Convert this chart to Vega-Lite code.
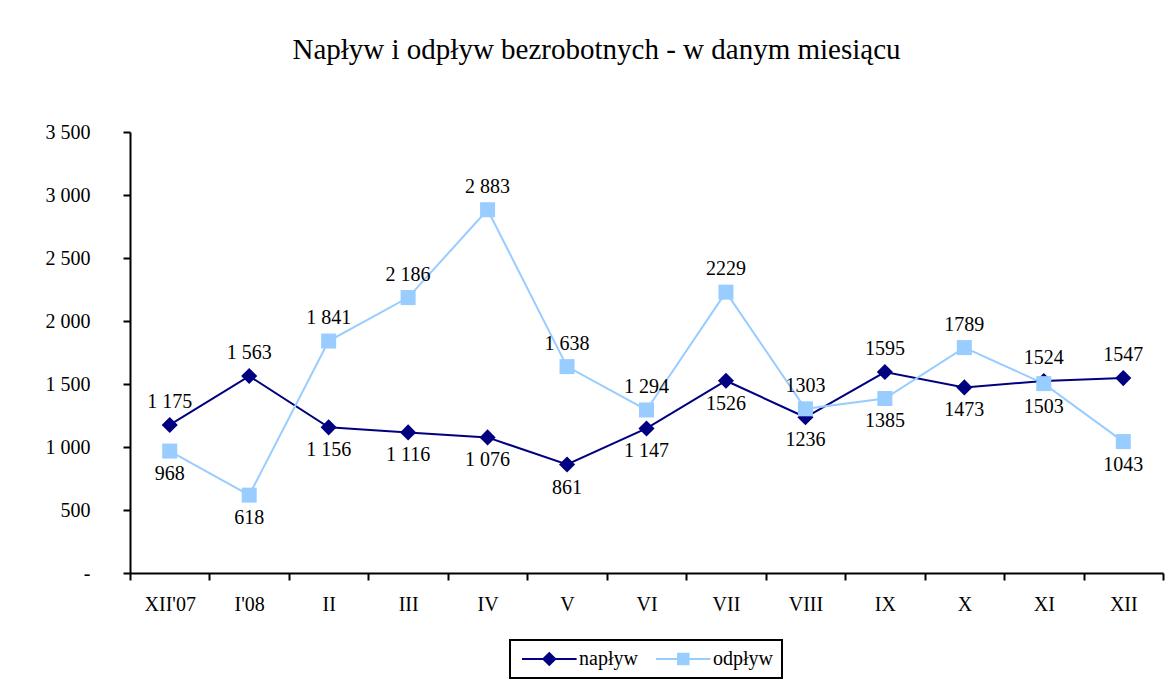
{
  "$schema": "https://vega.github.io/schema/vega-lite/v6.json",
  "width": 1033,
  "height": 441,
  "autosize": "none",
  "padding": {"left": 130, "top": 132, "right": 9, "bottom": 113},
  "background": "white",
  "title": {
    "text": "Napływ i odpływ bezrobotnych - w danym miesiącu",
    "font": "Liberation Serif",
    "fontSize": 29,
    "fontWeight": "normal",
    "color": "black",
    "anchor": "middle",
    "dx": -50,
    "offset": 57
  },
  "config": {
    "view": {"stroke": null},
    "legend": {"strokeWidth": 2},
    "axis": {
      "labelFont": "Liberation Serif",
      "labelFontSize": 20,
      "labelFontWeight": "normal",
      "labelColor": "black",
      "domainColor": "black",
      "domainWidth": 2,
      "tickColor": "black",
      "tickWidth": 2,
      "tickSize": 7,
      "grid": false,
      "title": null
    }
  },
  "data": {
    "values": [
      {"month": "XII'07", "series": "napływ", "value": 1175, "label": "1 175", "pos": "above"},
      {"month": "I'08", "series": "napływ", "value": 1563, "label": "1 563", "pos": "above"},
      {"month": "II", "series": "napływ", "value": 1156, "label": "1 156", "pos": "below"},
      {"month": "III", "series": "napływ", "value": 1116, "label": "1 116", "pos": "below"},
      {"month": "IV", "series": "napływ", "value": 1076, "label": "1 076", "pos": "below"},
      {"month": "V", "series": "napływ", "value": 861, "label": "861", "pos": "below"},
      {"month": "VI", "series": "napływ", "value": 1147, "label": "1 147", "pos": "below"},
      {"month": "VII", "series": "napływ", "value": 1526, "label": "1526", "pos": "below"},
      {"month": "VIII", "series": "napływ", "value": 1236, "label": "1236", "pos": "below"},
      {"month": "IX", "series": "napływ", "value": 1595, "label": "1595", "pos": "above"},
      {"month": "X", "series": "napływ", "value": 1473, "label": "1473", "pos": "below"},
      {"month": "XI", "series": "napływ", "value": 1524, "label": "1524", "pos": "above"},
      {"month": "XII", "series": "napływ", "value": 1547, "label": "1547", "pos": "above"},
      {"month": "XII'07", "series": "odpływ", "value": 968, "label": "968", "pos": "below"},
      {"month": "I'08", "series": "odpływ", "value": 618, "label": "618", "pos": "below"},
      {"month": "II", "series": "odpływ", "value": 1841, "label": "1 841", "pos": "above"},
      {"month": "III", "series": "odpływ", "value": 2186, "label": "2 186", "pos": "above"},
      {"month": "IV", "series": "odpływ", "value": 2883, "label": "2 883", "pos": "above"},
      {"month": "V", "series": "odpływ", "value": 1638, "label": "1 638", "pos": "above"},
      {"month": "VI", "series": "odpływ", "value": 1294, "label": "1 294", "pos": "above"},
      {"month": "VII", "series": "odpływ", "value": 2229, "label": "2229", "pos": "above"},
      {"month": "VIII", "series": "odpływ", "value": 1303, "label": "1303", "pos": "above"},
      {"month": "IX", "series": "odpływ", "value": 1385, "label": "1385", "pos": "below"},
      {"month": "X", "series": "odpływ", "value": 1789, "label": "1789", "pos": "above"},
      {"month": "XI", "series": "odpływ", "value": 1503, "label": "1503", "pos": "below"},
      {"month": "XII", "series": "odpływ", "value": 1043, "label": "1043", "pos": "below"}
    ]
  },
  "encoding": {
    "x": {
      "field": "month",
      "type": "ordinal",
      "sort": null,
      "scale": {"type": "band", "paddingInner": 0, "paddingOuter": 0},
      "axis": {"labelAngle": 0, "tickBand": "extent", "labelPadding": 14, "labelFontSize": 20}
    },
    "y": {
      "field": "value",
      "type": "quantitative",
      "scale": {"domain": [0, 3500], "nice": false},
      "axis": {
        "values": [0, 500, 1000, 1500, 2000, 2500, 3000, 3500],
        "labelPadding": 33,
        "labelFontSize": 20,
        "labelExpr": "datum.value == 0 ? '-' : replace(format(datum.value, ','), ',', ' ')"
      }
    }
  },
  "layer": [
    {
      "mark": {"type": "line", "strokeWidth": 2},
      "encoding": {
        "color": {
          "field": "series",
          "type": "nominal",
          "scale": {"domain": ["napływ", "odpływ"], "range": ["#000080", "#99CCFF"]},
          "legend": null
        }
      }
    },
    {
      "mark": {"type": "point", "filled": true, "opacity": 1},
      "encoding": {
        "color": {
          "field": "series",
          "type": "nominal",
          "scale": {"domain": ["napływ", "odpływ"], "range": ["#000080", "#99CCFF"]},
          "legend": null
        },
        "size": {
          "field": "series",
          "type": "nominal",
          "scale": {"domain": ["napływ", "odpływ"], "range": [260, 225]},
          "legend": null
        },
        "shape": {
          "field": "series",
          "type": "nominal",
          "scale": {"domain": ["napływ", "odpływ"], "range": ["diamond", "square"]},
          "legend": null
        }
      }
    },
    {
      "transform": [{"filter": "datum.pos == 'above'"}],
      "mark": {"type": "text", "font": "Liberation Serif", "fontSize": 20, "color": "black", "dy": -23},
      "encoding": {"text": {"field": "label"}}
    },
    {
      "transform": [{"filter": "datum.pos == 'below'"}],
      "mark": {"type": "text", "font": "Liberation Serif", "fontSize": 20, "color": "black", "dy": 23},
      "encoding": {"text": {"field": "label"}}
    },
    {
      "mark": {"type": "point", "filled": true, "opacity": 1, "size": 0, "strokeWidth": 2},
      "encoding": {
        "color": {
          "field": "series",
          "type": "nominal",
          "scale": {"domain": ["napływ", "odpływ"], "range": ["#000080", "#99CCFF"]},
          "legend": {
            "orient": "none",
            "legendX": 380,
            "legendY": 508,
            "direction": "horizontal",
            "title": null,
            "labelFont": "Liberation Serif",
            "labelFontSize": 20,
            "labelColor": "black",
            "strokeColor": "black",
            "padding": 9,
            "symbolSize": 196,
            "symbolStrokeWidth": 2,
            "labelOffset": 40,
            "columnPadding": 14
          }
        },
        "stroke": {
          "field": "series",
          "type": "nominal",
          "scale": {"domain": ["napływ", "odpływ"], "range": ["#000080", "#99CCFF"]},
          "legend": {
            "orient": "none",
            "legendX": 380,
            "legendY": 508,
            "direction": "horizontal",
            "title": null,
            "labelFont": "Liberation Serif",
            "labelFontSize": 20,
            "labelColor": "black",
            "strokeColor": "black",
            "padding": 9,
            "symbolSize": 196,
            "symbolStrokeWidth": 2,
            "labelOffset": 40,
            "columnPadding": 14
          }
        },
        "shape": {
          "field": "series",
          "type": "nominal",
          "scale": {
            "domain": ["napływ", "odpływ"],
            "range": ["M-1,0H6.8M2.05,0L2.9,-0.85L3.75,0L2.9,0.85Z", "M-1,0H6.8M2.15,-0.75H3.65V0.75H2.15Z"]
          },
          "legend": {
            "orient": "none",
            "legendX": 380,
            "legendY": 508,
            "direction": "horizontal",
            "title": null,
            "labelFont": "Liberation Serif",
            "labelFontSize": 20,
            "labelColor": "black",
            "strokeColor": "black",
            "padding": 9,
            "symbolSize": 196,
            "symbolStrokeWidth": 2,
            "labelOffset": 40,
            "columnPadding": 14
          }
        }
      }
    }
  ],
  "resolve": {"scale": {"shape": "independent", "color": "independent", "stroke": "independent", "size": "independent"}}
}
